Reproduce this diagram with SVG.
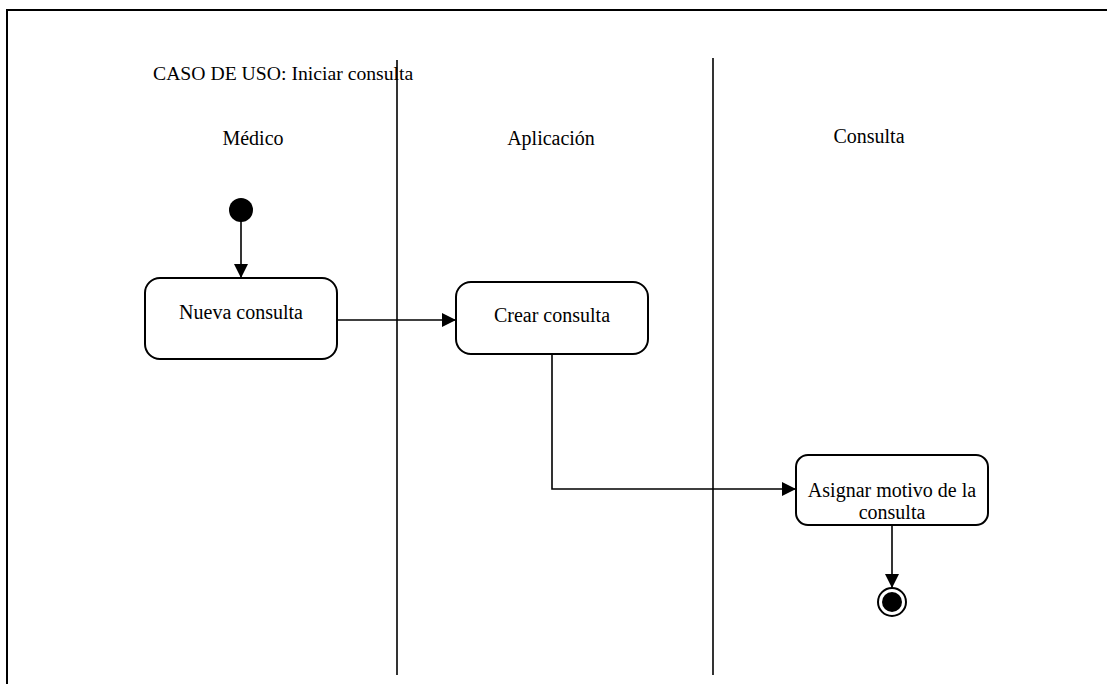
<svg xmlns="http://www.w3.org/2000/svg" width="1107" height="684" viewBox="0 0 1107 684">
<style>
text{font-family:"Liberation Serif","Times New Roman",serif;font-size:20px;fill:#000}
.c{text-anchor:middle}
.box{fill:#fff;stroke:#000;stroke-width:2}
.ln{fill:none;stroke:#000;stroke-width:1.6}
.lane{stroke:#000;stroke-width:1.6}
</style>
<defs>
<marker id="ah" viewBox="0 0 14 14" refX="14" refY="7" markerWidth="14" markerHeight="14" markerUnits="userSpaceOnUse" orient="auto">
<path d="M0,0 L14,7 L0,14 Z" fill="#000"/>
</marker>
</defs>
<rect width="1107" height="684" fill="#fff"/>
<g id="frame">
<path d="M7,690 L7,10 L1110,10" fill="none" stroke="#000" stroke-width="2"/>
</g>
<g id="title"><text x="153" y="80" style="font-size:19.7px">CASO DE USO: Iniciar consulta</text></g>
<g id="lanes">
<line class="lane" x1="397" y1="60" x2="397" y2="675"/>
<line class="lane" x1="713" y1="58" x2="713" y2="675"/>
<text class="c" x="253" y="145">Médico</text>
<text class="c" x="551" y="145">Aplicación</text>
<text class="c" x="869" y="143">Consulta</text>
</g>
<g id="connectors">
<path class="ln" d="M241,210 L241,278" marker-end="url(#ah)"/>
<path class="ln" d="M337,320 L456,320" marker-end="url(#ah)"/>
<path class="ln" d="M552,354 L552,489 L796,489" marker-end="url(#ah)"/>
<path class="ln" d="M892,525 L892,588" marker-end="url(#ah)"/>
</g>
<g id="start"><circle cx="241" cy="210" r="12" fill="#000"/></g>
<g id="nueva">
<rect class="box" x="145" y="278" width="192" height="81" rx="15"/>
<text class="c" x="241" y="319">Nueva consulta</text>
</g>
<g id="crear">
<rect class="box" x="456" y="282" width="192" height="72" rx="15"/>
<text class="c" x="552" y="322">Crear consulta</text>
</g>
<g id="asignar">
<rect class="box" x="796" y="455" width="192" height="70" rx="12"/>
<text class="c" x="892" y="497">Asignar motivo de la</text>
<text class="c" x="892" y="519">consulta</text>
</g>
<g id="end">
<circle cx="892" cy="602" r="14" fill="#fff" stroke="#000" stroke-width="2"/>
<circle cx="892" cy="602" r="10" fill="#000"/>
</g>
</svg>
